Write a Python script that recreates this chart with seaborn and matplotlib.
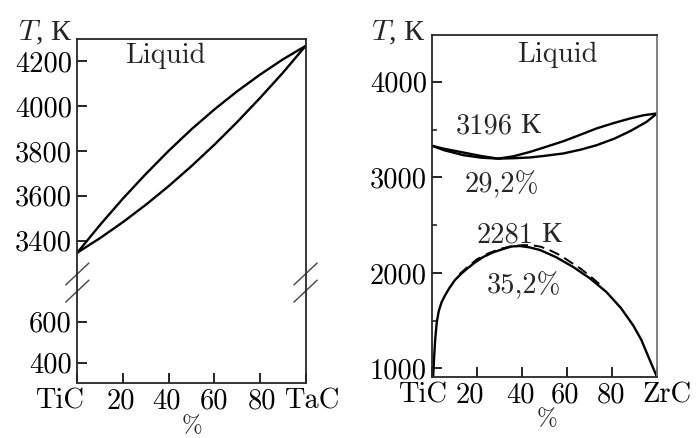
import numpy as np
import matplotlib.pyplot as plt
import seaborn as sns
from matplotlib.transforms import ScaledTranslation

sns.set_style('ticks')
plt.rcParams['font.family'] = ['cmr10', 'Liberation Serif']
plt.rcParams['mathtext.fontset'] = 'cm'
plt.rcParams['axes.unicode_minus'] = False
plt.rcParams['axes.formatter.use_mathtext'] = True

# TiC - TaC (left panel)
tac_x = [0, 10, 20, 30, 40, 50, 60, 70, 80, 90, 100]
tac_t_liq = [3347, 3471, 3588, 3697, 3800, 3896, 3984, 4065, 4139, 4207, 4267]
tac_t_sol = [3347, 3412, 3483, 3560, 3643, 3732, 3827, 3928, 4035, 4147, 4267]
tac_yticks = [400, 600, 3400, 3600, 3800, 4000, 4200]
tac_xlabels = ['TiC', '20', '40', '60', '80', 'TaC']

# TiC - ZrC (right panel)
zrc_x_liq = [0, 5, 13.7, 22, 29.2, 36, 43.4, 50, 58.3, 66, 73.1, 81, 88, 94, 100]
zrc_t_liq = [3329, 3300, 3260, 3222, 3196, 3220, 3266, 3315, 3378, 3447, 3512, 3570, 3616, 3650, 3669]
zrc_x_sol = [0, 5, 13.7, 22, 29.2, 36, 43.4, 50, 58.3, 66, 73.1, 81, 88, 95.4, 100]
zrc_t_sol = [3329, 3285, 3232, 3205, 3196, 3200, 3208, 3225, 3250, 3290, 3336, 3405, 3483, 3581, 3669]
gap_x = [0.3, 0.7, 1.2, 1.9, 2.8, 4, 5.5, 7.5, 10, 13, 16, 19, 22.6, 27, 31.5, 35.2, 38.9,
         43, 47.8, 55, 62.7, 70, 77.5, 84, 89.4, 93, 95.3, 98, 100]
gap_t = [910, 1100, 1300, 1480, 1600, 1690, 1760, 1840, 1925, 1995, 2055, 2110, 2166, 2215,
         2250, 2276, 2281, 2268, 2240, 2165, 2061, 1945, 1799, 1630, 1450, 1300, 1170, 1020, 910]
dash_x = [12, 16, 20, 25, 30, 35, 40, 44, 48, 52, 57, 61, 66, 70, 75.5]
dash_t = [1985, 2070, 2145, 2205, 2250, 2278, 2290, 2290, 2275, 2240, 2183, 2120, 2044, 1970, 1860]
zrc_xlabels = ['TiC', '20', '40', '60', '80', 'ZrC']

# broken y axis for the left panel: squeeze 730..3270 K
LO, HI = 730, 3270
S_LO, S_BR, S_HI = 0.205, 25 / 2540, 0.2246


def fwd(y):
    y = np.asarray(y, float)
    return np.where(y < LO, y * S_LO,
                    np.where(y < HI, LO * S_LO + (y - LO) * S_BR,
                             LO * S_LO + (HI - LO) * S_BR + (y - HI) * S_HI))


def inv(u):
    u = np.asarray(u, float)
    u1 = LO * S_LO
    u2 = u1 + (HI - LO) * S_BR
    return np.where(u < u1, u / S_LO,
                    np.where(u < u2, LO + (u - u1) / S_BR, HI + (u - u2) / S_HI))


FS = 20.5
LW = 1.7
CYR = 'Liberation Serif'   # cmr10 has no Cyrillic

fig = plt.figure(figsize=(6.99, 4.38), dpi=100)
ax1 = fig.add_axes([0.1106, 0.1267, 0.3265, 0.7842])
ax2 = fig.add_axes([0.6187, 0.1393, 0.3212, 0.7808])

# ---- left panel
sns.lineplot(x=tac_x, y=tac_t_liq, ax=ax1, color='k', lw=LW, sort=False, estimator=None)
sns.lineplot(x=tac_x, y=tac_t_sol, ax=ax1, color='k', lw=LW, sort=False, estimator=None)
ax1.set_yscale('function', functions=(fwd, inv))
ax1.set_xlim(0, 100)
ax1.set_ylim(303, 4298)
ax1.set_yticks(tac_yticks)
ax1.set_yticklabels([str(v) for v in tac_yticks])
ax1.set_xticks([0, 20, 40, 60, 80, 100])
ax1.set_xticklabels(tac_xlabels)
ax1.text(38.4, 4191, 'Liquid', ha='center', va='baseline', fontsize=FS)

# break marks on both spines
for xs in (0, 1):
    for yc in (0.316, 0.266):
        ax1.plot([xs - 0.051, xs + 0.051], [yc - 0.032, yc + 0.032], transform=ax1.transAxes,
                 color='#444444', lw=1.0, clip_on=False)

# ---- right panel
sns.lineplot(x=zrc_x_liq, y=zrc_t_liq, ax=ax2, color='k', lw=LW, sort=False, estimator=None)
sns.lineplot(x=zrc_x_sol, y=zrc_t_sol, ax=ax2, color='k', lw=LW, sort=False, estimator=None)
sns.lineplot(x=gap_x, y=gap_t, ax=ax2, color='k', lw=LW, sort=False, estimator=None)
sns.lineplot(x=dash_x, y=dash_t, ax=ax2, color='k', lw=1.4, sort=False, estimator=None,
             linestyle=(0, (5.5, 3)))
ax2.set_xlim(0, 100)
ax2.set_ylim(910, 4490)
ax2.set_yticks([1000, 2000, 3000, 4000])
ax2.set_yticks([1500, 2500, 3500], minor=True)
ax2.set_yticklabels(['1000', '2000', '3000', '4000'])
ax2.set_xticks([0, 20, 40, 60, 80, 100])
ax2.set_xticklabels(zrc_xlabels)
ax2.text(55.5, 4206, 'Liquid', ha='center', va='baseline', fontsize=FS)
ax2.text(35.6, 3462, '3196', ha='right', va='baseline', fontsize=FS)
ax2.text(39.0, 3462, 'К', ha='left', va='baseline', fontsize=FS + 1, family=CYR)
ax2.text(31, 2843, '29,2%', ha='center', va='baseline', fontsize=FS)
ax2.text(45.2, 2320, '2281', ha='right', va='baseline', fontsize=FS)
ax2.text(48.6, 2320, 'К', ha='left', va='baseline', fontsize=FS + 1, family=CYR)
ax2.text(40.8, 1785, '35,2%', ha='center', va='baseline', fontsize=FS)
ax2.spines['right'].set_color('#777777')

for ax in (ax1, ax2):
    ax.tick_params(which='major', direction='in', length=7, width=1.2, labelsize=FS, pad=4,
                   colors='k')
    ax.tick_params(which='minor', direction='in', length=3.5, width=1.2, left=True)
    ax.tick_params(axis='x', pad=4)
    for s in ax.spines.values():
        s.set_linewidth(1.3)
    ax.set_xlabel('%', fontsize=18)
    ax.set_ylabel('$T$, К', fontsize=FS + 1, rotation=0, ha='right', va='baseline', family=CYR)

ax1.yaxis.set_label_coords(-0.022, 0.997)
ax2.yaxis.set_label_coords(-0.033, 0.985)
ax1.xaxis.set_label_coords(0.503, -0.095)
ax2.xaxis.set_label_coords(0.51, -0.09)

# nudge the end labels outward like the original
for ax, shifts in ((ax1, [-18, -2, -2, 0, 2, 6]), (ax2, [-10, -8, -2, -2, -1, 10])):
    for lab, dx in zip(ax.get_xticklabels(), shifts):
        lab.set_transform(lab.get_transform() + ScaledTranslation(dx / 100, 0, fig.dpi_scale_trans))

fig.savefig('out.png', dpi=100)
